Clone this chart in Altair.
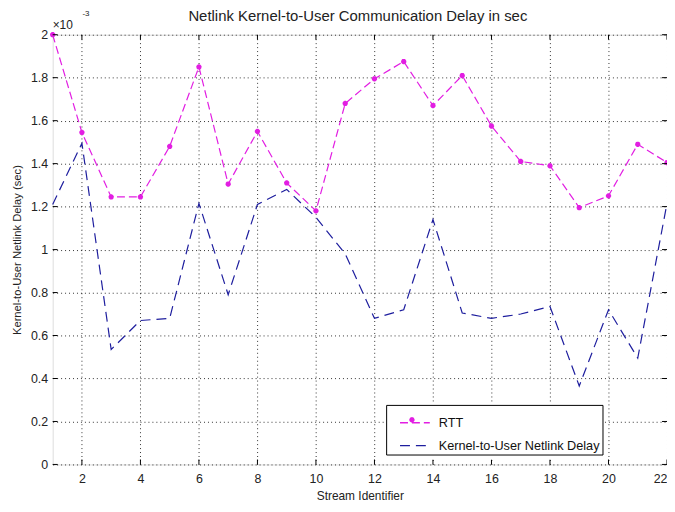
import altair as alt
import pandas as pd

stream = list(range(1, 23))
rtt = [2.0, 1.545, 1.245, 1.245, 1.48, 1.85, 1.305, 1.55, 1.31, 1.18, 1.68,
       1.795, 1.875, 1.67, 1.81, 1.575, 1.41, 1.39, 1.195, 1.25, 1.49, 1.405]
kernel = [1.21, 1.495, 0.535, 0.67, 0.68, 1.215, 0.79, 1.21, 1.28, 1.15, 0.98,
          0.68, 0.72, 1.14, 0.705, 0.68, 0.70, 0.735, 0.365, 0.72, 0.495, 1.215]
series_names = ["RTT", "Kernel-to-User Netlink Delay"]
colors = ["#e21ee2", "#1e1e9e"]
x_ticks = [2, 4, 6, 8, 10, 12, 14, 16, 18, 20, 22]
y_ticks = [0, 0.2, 0.4, 0.6, 0.8, 1.0, 1.2, 1.4, 1.6, 1.8, 2.0]
title_text = "Netlink Kernel-to-User Communication Delay in sec"

W, H = 619, 433
FONT = "Liberation Sans"
LEGX, LEGY = 336, 373

df = pd.DataFrame({
    "stream": stream * 2,
    "value": rtt + kernel,
    "series": [series_names[0]] * len(stream) + [series_names[1]] * len(stream),
})
df_rtt = pd.DataFrame({"stream": stream, "value": rtt})

xs = alt.Scale(domain=[1, 22], nice=False, zero=False)
ys = alt.Scale(domain=[0, 2], nice=False)

x_axis = alt.Axis(values=x_ticks, title="Stream Identifier", grid=True,
                  gridDash=[1, 3], gridColor="black", gridOpacity=0.8,
                  tickSize=0, domain=False, labelPadding=8, titlePadding=6,
                  labelFontSize=12.5, titleFontSize=12, titleFontWeight="normal",
                  labelFont=FONT, titleFont=FONT, labelColor="#222", titleColor="#222")
y_axis = alt.Axis(values=y_ticks, title="Kernel-to-User Netlink Delay (sec)", grid=True,
                  gridDash=[1, 3], gridColor="black", gridOpacity=0.8,
                  tickSize=0, domain=False, labelPadding=5, titlePadding=8,
                  labelExpr="format(datum.value, '.1~f')",
                  labelFontSize=12.5, titleFontSize=11.3, titleFontWeight="normal",
                  labelFont=FONT, titleFont=FONT, labelColor="#222", titleColor="#222")

leg = alt.Legend(title=None, orient="none", legendX=LEGX, legendY=LEGY,
                 strokeColor="black", padding=2,
                 symbolType="stroke", symbolSize=900, symbolStrokeWidth=1.3,
                 symbolOffset=11, rowPadding=-5,
                 labelFontSize=12.8, labelFont=FONT, labelColor="#111",
                 labelOffset=8, cornerRadius=0, labelLimit=300)

lines = alt.Chart(df).mark_line(strokeWidth=1.2).encode(
    x=alt.X("stream:Q", scale=xs, axis=x_axis),
    y=alt.Y("value:Q", scale=ys, axis=y_axis),
    color=alt.Color("series:N", scale=alt.Scale(domain=series_names, range=colors),
                    legend=leg),
    strokeDash=alt.StrokeDash("series:N",
                              scale=alt.Scale(domain=series_names, range=[[8, 4], [10, 6]]),
                              legend=leg),
)

star = "M-1,0L1,0M0,-1L0,1M-0.7,-0.7L0.7,0.7M-0.7,0.7L0.7,-0.7"
points = alt.Chart(df_rtt).mark_point(shape=star, size=28, strokeWidth=1.8,
                                      color=colors[0], filled=False, opacity=1).encode(
    x=alt.X("stream:Q", scale=xs),
    y=alt.Y("value:Q", scale=ys),
)

xt = pd.DataFrame({"stream": x_ticks})
yt = pd.DataFrame({"value": y_ticks})
tick_style = dict(color="black", strokeWidth=1)
xb = alt.Chart(xt).mark_rule(**tick_style).encode(
    x=alt.X("stream:Q", scale=xs), y=alt.value(H), y2=alt.value(H - 5))
xtop = alt.Chart(xt).mark_rule(**tick_style).encode(
    x=alt.X("stream:Q", scale=xs), y=alt.value(0), y2=alt.value(5))
yl = alt.Chart(yt).mark_rule(**tick_style).encode(
    y=alt.Y("value:Q", scale=ys), x=alt.value(0), x2=alt.value(5))
yr = alt.Chart(yt).mark_rule(**tick_style).encode(
    y=alt.Y("value:Q", scale=ys), x=alt.value(W - 5), x2=alt.value(W))

exp1 = alt.Chart(pd.DataFrame({"t": ["\u00d710"]})).mark_text(
    align="left", baseline="middle", fontSize=12, font=FONT, color="#222").encode(
    x=alt.value(0), y=alt.value(-10), text="t:N")
exp2 = alt.Chart(pd.DataFrame({"t": ["-3"]})).mark_text(
    align="left", baseline="middle", fontSize=8, font=FONT, color="#222").encode(
    x=alt.value(30), y=alt.value(-21), text="t:N")
title = alt.Chart(pd.DataFrame({"t": [title_text]})).mark_text(
    align="center", baseline="middle", fontSize=15, font=FONT, color="#222").encode(
    x=alt.value(W / 2 - 2), y=alt.value(-19), text="t:N")

leg_bg = alt.Chart(pd.DataFrame({"s": ["bg"]})).mark_rect(color="white", opacity=1).encode(
    x=alt.value(LEGX - 2), x2=alt.value(LEGX + 218),
    y=alt.value(LEGY - 2), y2=alt.value(LEGY + 55))
leg_star = alt.Chart(pd.DataFrame({"s": series_names[:1]})).mark_point(
    shape=star, size=28, strokeWidth=1.8, color=colors[0], filled=False, opacity=1).encode(
    x=alt.value(LEGX + 26), y=alt.value(LEGY + 15))

chart = alt.layer(lines, points, xb, xtop, yl, yr, exp1, exp2, title,
                  leg_bg, leg_star).properties(
    width=W, height=H,
    autosize=alt.AutoSizeParams(type="none"),
    padding={"left": 45, "top": 25, "right": 0, "bottom": 46},
).configure_view(
    stroke="black", strokeWidth=1
).configure(background="white")

chart.save("out.html", embed_options={"renderer": "svg", "actions": False})
